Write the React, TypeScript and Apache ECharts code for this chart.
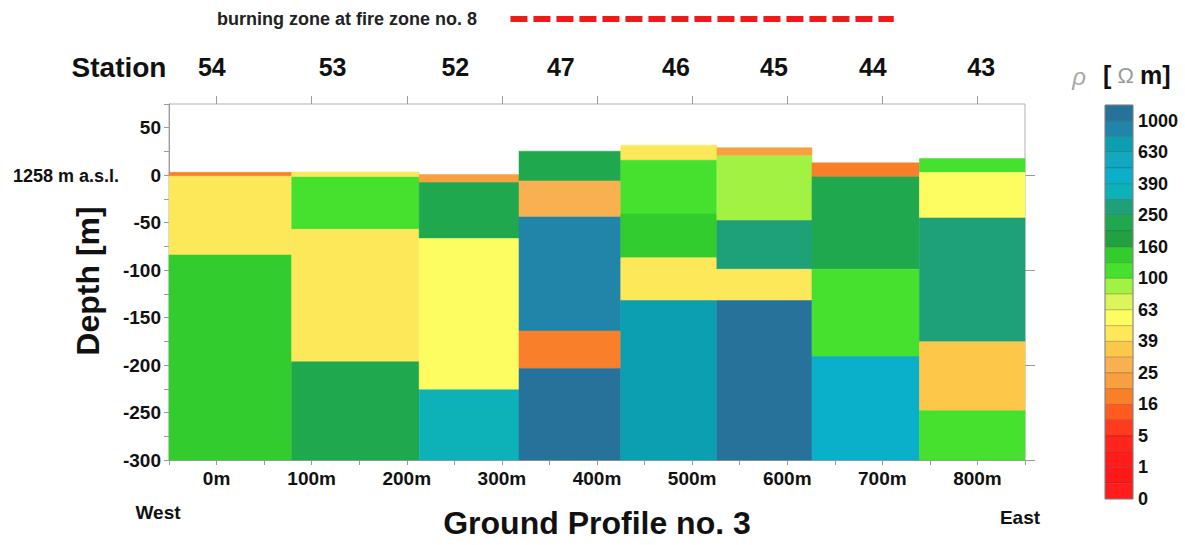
import React, { useEffect, useRef } from "react";
import * as echarts from "echarts";

// ---- data ----
const columnEdges = [-50, 79, 213, 318, 425, 526, 626, 739, 850];
const layerBounds = [
  [3, -1, -84, -300],
  [3.5, -2, -57, -196.5, -300],
  [0.7, -7.7, -66.7, -226, -300],
  [25.3, -6, -44, -164, -203.5, -300],
  [31.6, 15.8, -41, -87, -132, -300],
  [29, 20.4, -47.7, -99, -132, -300],
  [13, -1.8, -99, -191, -300],
  [17.5, 2.8, -45, -175.4, -248, -300],
];
const layerRho = [
  [17, 45, 140],
  [42, 110, 45, 220],
  [22, 220, 55, 350],
  [220, 28, 900, 17, 1100],
  [45, 110, 140, 45, 700],
  [22, 90, 280, 45, 1100],
  [17, 220, 110, 450],
  [110, 55, 280, 35, 110],
];
const stationNames = ["54", "53", "52", "47", "46", "45", "44", "43"];
const stationPos = [-5, 122, 251, 362, 483, 586, 690, 804];
const distanceTicks = [0, 100, 200, 300, 400, 500, 600, 700, 800];
const rightDepthTicks = [0, -100, -200, -300];
const burnZone = [309, 712];
const bandLower = [1000, 794, 630, 496, 390, 312, 250, 200, 160, 126, 100, 79, 63, 50, 39, 31, 25, 20, 16, 9, 5, 2.2, 1, 0.5, 0];
const bandColors = [
  "#26729b", "#2185a9", "#0b9fb1", "#10a9bf", "#0ab0ca", "#0db2b8", "#1ea078", "#20a84e",
  "#23a042", "#33cc2e", "#46e02e", "#a2f244", "#dcf55a", "#fdfd62", "#fde85a", "#fdc84a",
  "#f8b050", "#f8a040", "#fa7f2a", "#ff5a20", "#ff3a1e", "#ff241c", "#ff1c1a", "#ff1818", "#ff1c1c",
];
const colorbarLabels = ["1000", "630", "390", "250", "160", "100", "63", "39", "25", "16", "5", "1", "0"];

const FONT = "'Liberation Sans', Arial, Helvetica, sans-serif";

function colorFor(rho: number): string {
  for (let i = 0; i < bandLower.length; i++) {
    if (rho >= bandLower[i]) return bandColors[i];
  }
  return bandColors[bandColors.length - 1];
}

function buildCells() {
  const cells: number[][] = [];
  layerBounds.forEach((bounds, c) => {
    for (let l = 0; l < bounds.length - 1; l++) {
      cells.push([columnEdges[c], columnEdges[c + 1], bounds[l], bounds[l + 1], layerRho[c][l]]);
    }
  });
  return cells;
}

function buildGraphic(bx0: number, bx1: number) {
  const els: any[] = [];
  const cbX = 1105, cbTop = 105, cbW = 28, cbH = 394;
  const bh = cbH / bandColors.length;
  bandColors.forEach((col, i) => {
    els.push({
      type: "rect",
      shape: { x: cbX, y: cbTop + i * bh, width: cbW, height: bh },
      style: { fill: col, stroke: "rgba(0,0,0,0.22)", lineWidth: 0.8 },
      z: 10,
    });
  });
  els.push({
    type: "rect",
    shape: { x: cbX, y: cbTop, width: cbW, height: cbH },
    style: { fill: "none", stroke: "#8a8a8a", lineWidth: 1 },
    z: 11,
  });
  colorbarLabels.forEach((lab, k) => {
    const boundary = k < colorbarLabels.length - 1 ? 2 * k + 1 : bandColors.length;
    els.push({
      type: "text",
      x: cbX + cbW + 5,
      y: cbTop + boundary * bh,
      style: {
        text: lab, fill: "#111", font: `bold 18px ${FONT}`,
        align: "left", verticalAlign: "middle",
      },
      z: 12,
    });
  });
  // colorbar title
  els.push({
    type: "text", x: 1079, y: 76,
    style: { text: "ρ", fill: "#a8a8a8", font: `italic 24px ${FONT}`, align: "center", verticalAlign: "middle" },
  });
  els.push({
    type: "text", x: 1103, y: 75,
    style: {
      text: "{b|[}{o| Ω }{b|m]}",
      align: "left", verticalAlign: "middle",
      rich: {
        b: { font: `bold 25px ${FONT}`, fill: "#111" },
        o: { font: `22px ${FONT}`, fill: "#9a9a9a" },
      },
    },
  });
  // titles
  els.push({
    type: "text", x: 347, y: 19,
    style: { text: "burning zone at fire zone no. 8", fill: "#222", font: `bold 18px ${FONT}`, align: "center", verticalAlign: "middle" },
  });
  els.push({
    type: "line",
    shape: { x1: bx0, y1: 19, x2: bx1, y2: 19 },
    style: { stroke: "#f01a1a", lineWidth: 6, lineDash: [17, 6] },
  });
  els.push({
    type: "text", x: 119, y: 67,
    style: { text: "Station", fill: "#111", font: `bold 28px ${FONT}`, align: "center", verticalAlign: "middle" },
  });
  els.push({
    type: "text", x: 66, y: 176,
    style: { text: "1258 m a.s.l.", fill: "#111", font: `bold 18px ${FONT}`, align: "center", verticalAlign: "middle" },
  });
  els.push({
    type: "text", x: 88, y: 281, rotation: Math.PI / 2,
    style: { text: "Depth [m]", fill: "#111", font: `bold 32px ${FONT}`, align: "center", verticalAlign: "middle" },
  });
  els.push({
    type: "text", x: 597, y: 523,
    style: { text: "Ground Profile no. 3", fill: "#111", font: `bold 32px ${FONT}`, align: "center", verticalAlign: "middle" },
  });
  els.push({
    type: "text", x: 158, y: 512,
    style: { text: "West", fill: "#111", font: `bold 19px ${FONT}`, align: "center", verticalAlign: "middle" },
  });
  els.push({
    type: "text", x: 1020, y: 517,
    style: { text: "East", fill: "#111", font: `bold 19px ${FONT}`, align: "center", verticalAlign: "middle" },
  });
  return els;
}

export default function App() {
  const ref = useRef<HTMLDivElement>(null);
  useEffect(() => {
    if (!ref.current) return;
    const chart = echarts.init(ref.current, null, { renderer: "svg" });
    const axisGray = "#9a9a9a";
    const option: any = {
      animation: false,
      backgroundColor: "#ffffff",
      grid: { left: 169, right: 160, top: 104, bottom: 85, show: true, borderColor: "#b0b0b0", borderWidth: 1, backgroundColor: "#fff" },
      xAxis: [
        {
          type: "value", min: -50, max: 850, interval: 50, position: "bottom",
          axisLine: { show: true, onZero: false, lineStyle: { color: axisGray } },
          axisTick: { show: true, length: 5, lineStyle: { color: axisGray } },
          splitLine: { show: false },
          axisLabel: {
            margin: 9, color: "#111", fontSize: 19, fontWeight: "bold", fontFamily: FONT,
            customValues: distanceTicks,
            formatter: (v: number) => `${v}m`,
          },
        },
        {
          type: "value", min: -50, max: 850, position: "top",
          axisLine: { show: false, onZero: false },
          axisTick: { show: true, length: 8, customValues: distanceTicks, lineStyle: { color: axisGray } },
          splitLine: { show: false },
          axisLabel: {
            margin: 25, color: "#111", fontSize: 25, fontWeight: "bold", fontFamily: FONT,
            customValues: stationPos,
            formatter: (v: number) => {
              const i = stationPos.indexOf(v);
              return i >= 0 ? stationNames[i] : "";
            },
          },
        },
      ],
      yAxis: [
        {
          type: "value", min: -300, max: 75, interval: 25, position: "left",
          axisLine: { show: true, onZero: false, lineStyle: { color: axisGray } },
          axisTick: { show: true, length: 5, lineStyle: { color: axisGray } },
          splitLine: { show: false },
          axisLabel: {
            margin: 8, color: "#111", fontSize: 19, fontWeight: "bold", fontFamily: FONT,
            formatter: (v: number) => (v % 50 === 0 ? String(v) : ""),
          },
        },
        {
          type: "value", min: -300, max: 75, position: "right",
          axisLine: { show: false, onZero: false },
          axisTick: { show: true, length: 10, customValues: rightDepthTicks, lineStyle: { color: axisGray } },
          splitLine: { show: false },
          axisLabel: { show: false },
        },
      ],
      series: [
        {
          type: "custom",
          xAxisIndex: 0,
          yAxisIndex: 0,
          data: buildCells(),
          encode: { x: [0, 1], y: [2, 3] },
          renderItem: (_params: any, api: any) => {
            const p0 = api.coord([api.value(0), api.value(2)]);
            const p1 = api.coord([api.value(1), api.value(3)]);
            return {
              type: "rect",
              shape: { x: p0[0], y: p0[1], width: p1[0] - p0[0], height: p1[1] - p0[1] },
              style: { fill: colorFor(api.value(4)), stroke: colorFor(api.value(4)), lineWidth: 0.5 },
            };
          },
        },
      ],
    };
    chart.setOption(option);
    const bx0 = chart.convertToPixel({ xAxisIndex: 0 }, burnZone[0]) as number;
    const bx1 = chart.convertToPixel({ xAxisIndex: 0 }, burnZone[1]) as number;
    chart.setOption({ graphic: buildGraphic(bx0, bx1) });
    return () => chart.dispose();
  }, []);
  return (
    <div
      ref={ref}
      style={{ position: "fixed", left: 0, top: 0, width: 1185, height: 545, background: "#fff" }}
    />
  );
}
